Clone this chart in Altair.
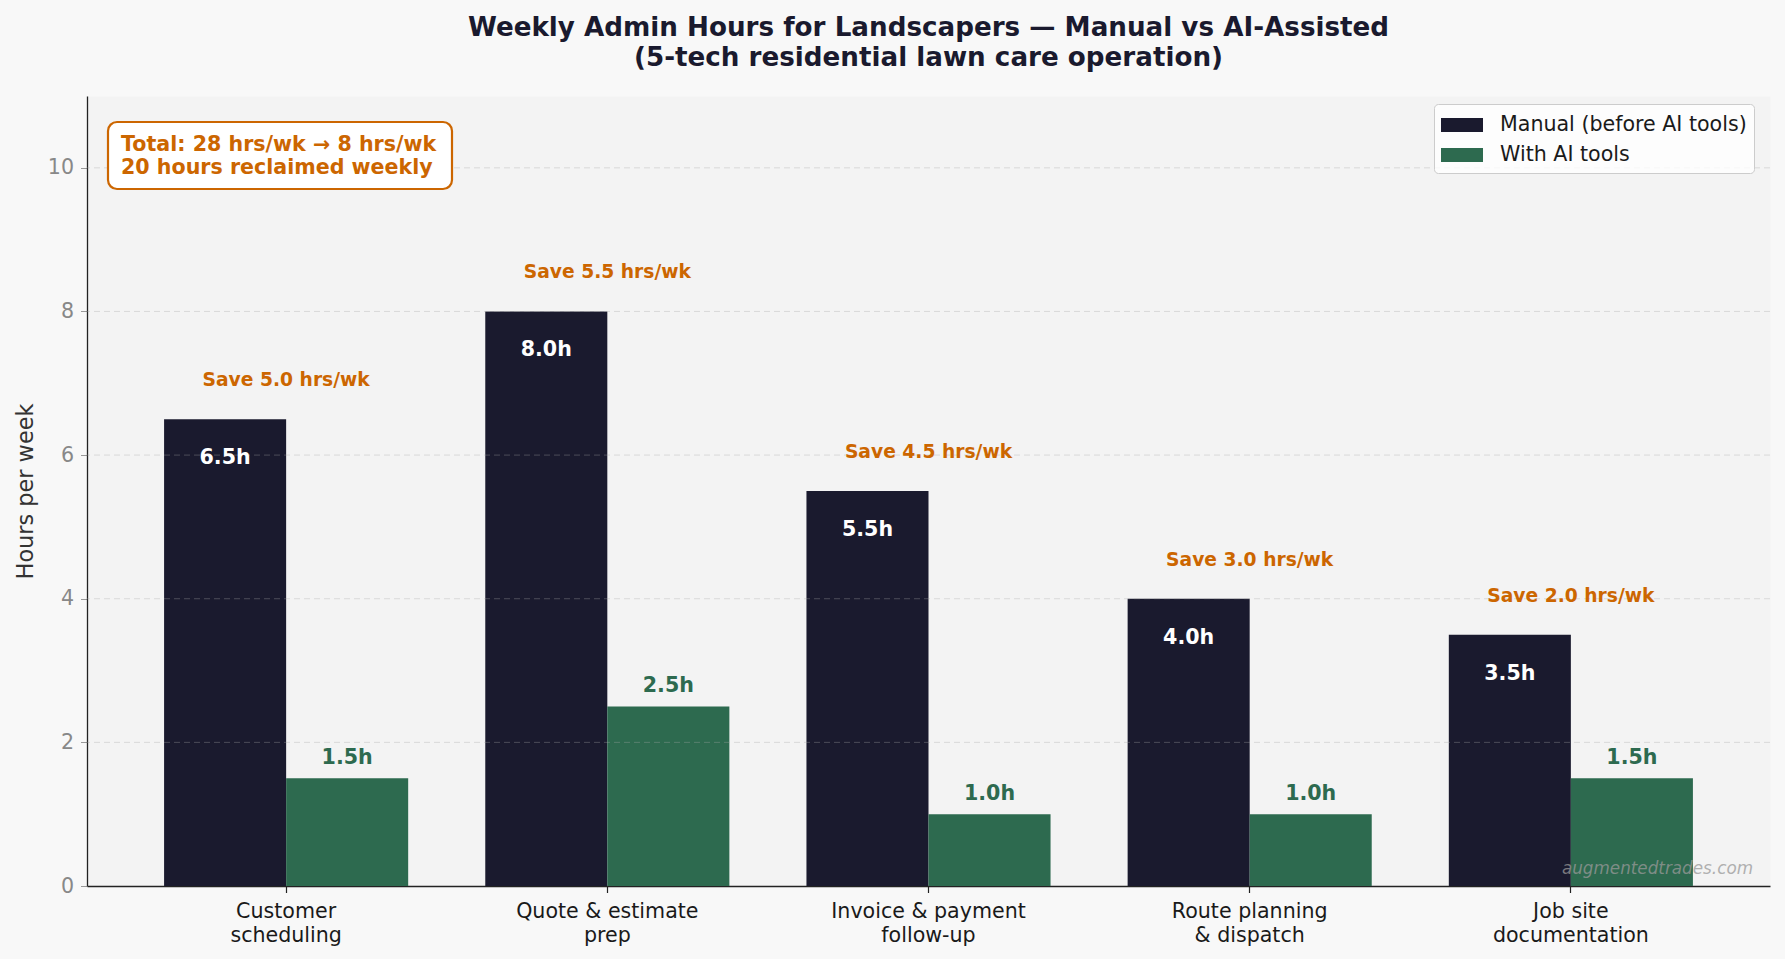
import altair as alt
import pandas as pd

# ---------------- data ----------------
categories = [
    "Customer\nscheduling",
    "Quote & estimate\nprep",
    "Invoice & payment\nfollow-up",
    "Route planning\n& dispatch",
    "Job site\ndocumentation",
]
manual_hours = [6.5, 8.0, 5.5, 4.0, 3.5]
ai_hours = [1.5, 2.5, 1.0, 1.0, 1.5]
series = ["Manual (before AI tools)", "With AI tools"]
series_colors = ["#1a1a2e", "#2d6a4f"]
y_ticks = [0, 2, 4, 6, 8, 10]
grid_values = [2, 4, 6, 8, 10]
title_lines = [
    "Weekly Admin Hours for Landscapers \u2014 Manual vs AI-Assisted",
    "(5-tech residential lawn care operation)",
]
summary_lines = ["Total: 28 hrs/wk \u2192 8 hrs/wk", "20 hours reclaimed weekly"]
watermark = "augmentedtrades.com"

FONT = "DejaVu Sans"
ORANGE = "#cc6600"
W, H = 1683, 790

# ---------------- tables ----------------
rows = []
for c, m, a in zip(categories, manual_hours, ai_hours):
    rows.append({"category": c, "series": series[0], "hours": m, "label": f"{m:.1f}h"})
    rows.append({"category": c, "series": series[1], "hours": a, "label": f"{a:.1f}h"})
bars_df = pd.DataFrame(rows)
save_df = pd.DataFrame({
    "category": categories,
    "manual": manual_hours,
    "label": [f"Save {m - a:.1f} hrs/wk" for m, a in zip(manual_hours, ai_hours)],
})
grid_df = pd.DataFrame({"y": grid_values})
note_df = pd.DataFrame({"k": [0]})

x_enc = alt.X(
    "category:N",
    sort=categories,
    scale=alt.Scale(domain=categories, paddingInner=0.24, paddingOuter=0.24),
    axis=alt.Axis(
        title=None, labelAngle=0, labelExpr="split(datum.label, '\\n')",
        labelFontSize=20.6, labelColor="#1a1a1a", labelLineHeight=24,
        labelFont=FONT, labelLimit=0, tickColor="#222222", tickSize=6.5,
        tickWidth=1.2, labelPadding=9, domainColor="#222222", domainWidth=1.3,
        grid=False,
    ),
)
y_scale = alt.Scale(domain=[0, 11], nice=False)
y_enc = alt.Y(
    "hours:Q", scale=y_scale,
    axis=alt.Axis(
        values=y_ticks, format="d", title="Hours per week", titleFontSize=22.4,
        titleColor="#333333", titleFontWeight="normal", titleFont=FONT,
        labelColor="#888888", labelFontSize=20.6, labelFont=FONT,
        tickColor="#999999", tickSize=6.5, labelPadding=7,
        domainColor="#222222", domainWidth=1.3, grid=False,
        titleX=-62, titleY=H / 2, titleAngle=270, titleAlign="center",
        titleBaseline="middle",
    ),
)
xoff = alt.XOffset("series:N", sort=series,
                   scale=alt.Scale(domain=series, paddingInner=0, paddingOuter=0))

bars = alt.Chart(bars_df).mark_bar().encode(
    x=x_enc, y=y_enc, xOffset=xoff,
    color=alt.Color("series:N", sort=series,
                    scale=alt.Scale(domain=series, range=series_colors),
                    legend=alt.Legend(title=None)),
)

grid = alt.Chart(grid_df).mark_rule(
    color="#aaaaaa", opacity=0.35, strokeDash=[6, 4], strokeWidth=1
).encode(y=alt.Y("y:Q", scale=y_scale))

manual_lbl = alt.Chart(bars_df).transform_filter(
    alt.datum.series == series[0]
).mark_text(
    font=FONT, fontSize=20.6, fontWeight="bold", color="white",
    baseline="middle", dy=39
).encode(x=alt.X("category:N", sort=categories), xOffset=xoff,
         y=alt.Y("hours:Q", scale=y_scale), text="label:N")

ai_lbl = alt.Chart(bars_df).transform_filter(
    alt.datum.series == series[1]
).mark_text(
    font=FONT, fontSize=20.6, fontWeight="bold", color=series_colors[1],
    baseline="middle", dy=-20
).encode(x=alt.X("category:N", sort=categories), xOffset=xoff,
         y=alt.Y("hours:Q", scale=y_scale), text="label:N")

save_lbl = alt.Chart(save_df).mark_text(
    font=FONT, fontSize=18.7, fontWeight="bold", color=ORANGE,
    baseline="middle", dy=-39
).encode(x=alt.X("category:N", sort=categories),
         y=alt.Y("manual:Q", scale=y_scale), text="label:N")

note_box = alt.Chart(note_df).mark_rect(
    fill="white", stroke=ORANGE, strokeWidth=2.2, cornerRadius=9
).encode(x=alt.value(21), x2=alt.value(365), y=alt.value(26), y2=alt.value(93))

note_text = alt.Chart(note_df).mark_text(
    font=FONT, fontSize=20.6, fontWeight="bold", color=ORANGE,
    align="left", baseline="middle", lineHeight=23
).encode(x=alt.value(34), y=alt.value(49), text=alt.value(summary_lines))

wm = alt.Chart(note_df).mark_text(
    font=FONT, fontSize=16.8, fontStyle="italic", color="#999999", opacity=0.75,
    align="right", baseline="middle"
).encode(x=alt.value(1666), y=alt.value(773), text=alt.value(watermark))

chart = alt.layer(
    bars, grid, manual_lbl, ai_lbl, save_lbl, note_box, note_text, wm
).properties(
    width=W, height=H,
    autosize=alt.AutoSizeParams(type="none"),
    padding={"left": 87, "top": 96, "right": 15, "bottom": 73},
    background="#f8f8f8",
    title=alt.TitleParams(
        text=title_lines, fontSize=26.2, font=FONT, fontWeight="bold",
        color="#1a1a2e", anchor="middle", frame="group", offset=25,
        lineHeight=30,
    ),
).configure_view(
    stroke="transparent", fill="#f3f3f3"
).configure_legend(
    orient="none", legendX=1347, legendY=8,
    symbolType="M-1,-0.5H2V0.5H-1Z", symbolSize=784, symbolStrokeWidth=0,
    symbolOpacity=1, labelFont=FONT, labelFontSize=20.6, labelColor="#1a1a1a",
    labelOffset=31, labelLimit=0, rowPadding=5, padding=7,
    fillColor="rgba(255,255,255,0.8)", strokeColor="#cccccc", cornerRadius=4,
)

chart.save("out.html", embed_options={"renderer": "svg", "actions": False})
